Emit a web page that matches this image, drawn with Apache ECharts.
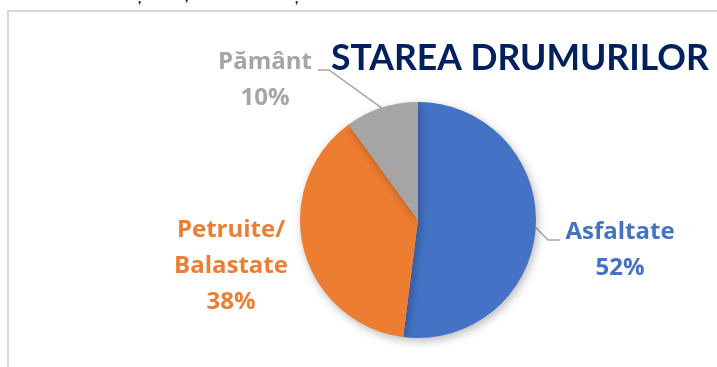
<!DOCTYPE html>
<html>
<head>
<meta charset="utf-8">
<style>
  html, body { margin: 0; padding: 0; background: #ffffff; }
  #chart { width: 717px; height: 367px; }
</style>
<script src="https://cdn.jsdelivr.net/npm/echarts@6/dist/echarts.min.js"></script>
</head>
<body>
<div id="chart"></div>
<script>
// Road surface breakdown (share of total length, %)
const categories = ['Asfaltate', 'Petruite/\nBalastate', 'Pământ'];
const shares = [52, 38, 10];
const colors = ['#4472C4', '#ED7D31', '#A5A5A5'];
const titleText = 'STAREA DRUMURILOR';

// label anchor (centre of the text block) and leader-line route per slice
const labelSpots = [
  { x: 620, y: 250, line: [[548, 240], [560, 240]] },
  { x: 231, y: 266, line: null },
  { x: 265, y: 80,  line: [[329, 70], [318, 70]] }
];

const chart = echarts.init(document.getElementById('chart'), null, { renderer: 'canvas' });

const titleFont = 'Lato, "Open Sans", sans-serif';
const labelFont = '"Open Sans", Lato, sans-serif';

chart.setOption({
  animation: false,
  backgroundColor: '#ffffff',
  title: {
    text: titleText,
    left: 326,
    top: 36,
    textStyle: {
      fontFamily: titleFont,
      fontWeight: 'bold',
      fontSize: 35.5,
      color: '#002060'
    }
  },
  graphic: [
    {
      type: 'rect',
      shape: { x: 8, y: 11, width: 760, height: 400 },
      style: { fill: 'none', stroke: '#d9d9d9', lineWidth: 2 },
      silent: true
    },
    { type: 'text', x: 138, y: -9, style: { text: ',', font: 'bold 14px ' + titleFont, fill: '#000' } },
    { type: 'text', x: 185, y: -11, style: { text: ',', font: 'bold 14px ' + titleFont, fill: '#000' } },
    { type: 'text', x: 295, y: -9, style: { text: ',', font: 'bold 14px ' + titleFont, fill: '#000' } }
  ],
  series: [{
    type: 'pie',
    center: [418, 220],
    radius: 118,
    startAngle: 90,
    clockwise: true,
    data: categories.map((name, i) => ({
      name: name,
      value: shares[i],
      itemStyle: { color: colors[i] },
      label: { color: colors[i] },
      labelLine: { show: labelSpots[i].line !== null }
    })),
    itemStyle: {
      borderWidth: 0,
      shadowBlur: 10,
      shadowColor: 'rgba(0,0,0,0.28)',
      shadowOffsetX: 2,
      shadowOffsetY: 3
    },
    label: {
      show: true,
      position: 'outside',
      formatter: '{b}\n{d}%',
      fontFamily: labelFont,
      fontWeight: 'bold',
      fontSize: 24,
      lineHeight: 36,
      align: 'center'
    },
    labelLine: {
      show: true,
      lineStyle: { color: '#A6A6A6', width: 1.5 },
      length: 20,
      length2: 12
    },
    labelLayout: function (params) {
      const spot = labelSpots[params.dataIndex];
      const out = { x: spot.x, y: spot.y, align: 'center', verticalAlign: 'middle' };
      if (spot.line && params.labelLinePoints) {
        out.labelLinePoints = [params.labelLinePoints[0]].concat(spot.line);
      }
      return out;
    }
  }]
});
</script>
</body>
</html>
